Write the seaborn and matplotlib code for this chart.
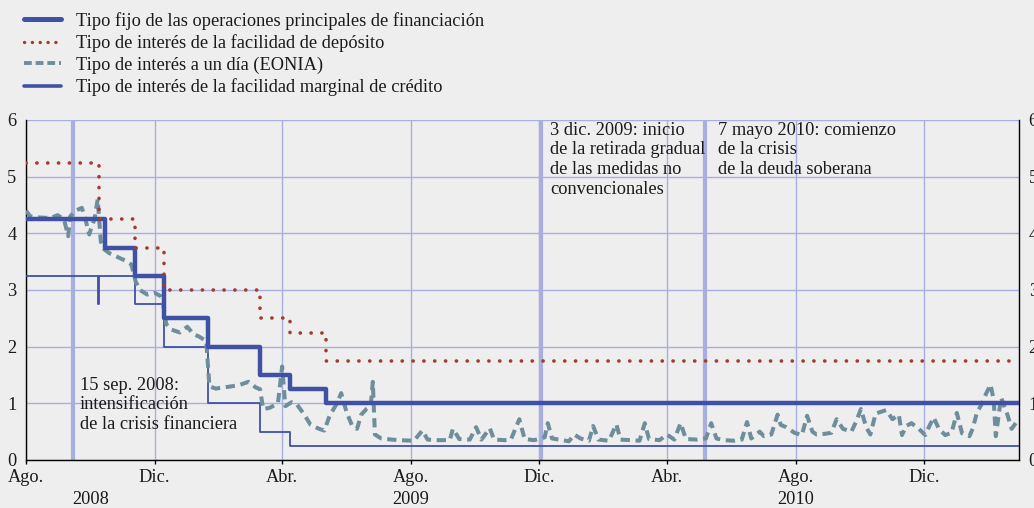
import matplotlib
matplotlib.use("Agg")
import matplotlib.pyplot as plt
import matplotlib.transforms as mtransforms
from matplotlib.lines import Line2D
import seaborn as sns
import pandas as pd

# ---------------- data ----------------
mro_dates = ["2008-08-01", "2008-10-15", "2008-11-12", "2008-12-10", "2009-01-21",
             "2009-03-11", "2009-04-08", "2009-05-13", "2011-03-01"]
mro_values = [4.25, 3.75, 3.25, 2.50, 2.00, 1.50, 1.25, 1.00, 1.00]

upper_dates = ["2008-08-01", "2008-10-09", "2008-11-12", "2008-12-10", "2009-03-11",
               "2009-04-08", "2009-05-13", "2011-03-01"]
upper_values = [5.25, 4.25, 3.75, 3.00, 2.50, 2.25, 1.75, 1.75]

lower_dates = ["2008-08-01", "2008-10-08", "2008-10-09", "2008-11-12", "2008-12-10",
               "2009-01-21", "2009-03-11", "2009-04-08", "2011-03-01"]
lower_values = [3.25, 2.75, 3.25, 2.75, 2.00, 1.00, 0.50, 0.25, 0.25]

eonia_dates = [
    "2008-08-01", "2008-08-05", "2008-08-14", "2008-08-24", "2008-08-31", "2008-09-06",
    "2008-09-10", "2008-09-12", "2008-09-17", "2008-09-23", "2008-09-27", "2008-09-30",
    "2008-10-02", "2008-10-05", "2008-10-08", "2008-10-11", "2008-10-14", "2008-10-19",
    "2008-10-27", "2008-11-03", "2008-11-09", "2008-11-13", "2008-11-17", "2008-11-24",
    "2008-12-01", "2008-12-08", "2008-12-12", "2008-12-17", "2008-12-25", "2009-01-01",
    "2009-01-07", "2009-01-12", "2009-01-19", "2009-01-22", "2009-01-28", "2009-02-04",
    "2009-02-12", "2009-02-19", "2009-02-28", "2009-03-07", "2009-03-11", "2009-03-14",
    "2009-03-20", "2009-03-28", "2009-04-01", "2009-04-04", "2009-04-10", "2009-04-15",
    "2009-04-22", "2009-04-28", "2009-05-06", "2009-05-11", "2009-05-16", "2009-05-23",
    "2009-05-27", "2009-06-01", "2009-06-06", "2009-06-11", "2009-06-15", "2009-06-20",
    "2009-06-24", "2009-06-26", "2009-06-28", "2009-07-04", "2009-07-14", "2009-07-21",
    "2009-08-04", "2009-08-12", "2009-08-17", "2009-08-28", "2009-09-07", "2009-09-10",
    "2009-09-16", "2009-09-26", "2009-10-02", "2009-10-07", "2009-10-15", "2009-10-19",
    "2009-10-29", "2009-11-04", "2009-11-12", "2009-11-17", "2009-11-26", "2009-12-06",
    "2009-12-09", "2009-12-13", "2009-12-23", "2009-12-29", "2010-01-03", "2010-01-09",
    "2010-01-17", "2010-01-21", "2010-01-26", "2010-02-05", "2010-02-12", "2010-02-16",
    "2010-02-26", "2010-03-06", "2010-03-11", "2010-03-15", "2010-03-25", "2010-04-01",
    "2010-04-08", "2010-04-14", "2010-04-19", "2010-04-30", "2010-05-08", "2010-05-13",
    "2010-05-18", "2010-05-25", "2010-06-04", "2010-06-11", "2010-06-16", "2010-06-20",
    "2010-06-28", "2010-07-02", "2010-07-09", "2010-07-15", "2010-07-18", "2010-07-23",
    "2010-07-31", "2010-08-07", "2010-08-12", "2010-08-17", "2010-08-21", "2010-08-28",
    "2010-09-04", "2010-09-09", "2010-09-15", "2010-09-23", "2010-09-28", "2010-10-02",
    "2010-10-07", "2010-10-11", "2010-10-16", "2010-10-21", "2010-10-26", "2010-11-01",
    "2010-11-07", "2010-11-10", "2010-11-14", "2010-11-19", "2010-11-26", "2010-12-02",
    "2010-12-06", "2010-12-10", "2010-12-15", "2010-12-21", "2010-12-27", "2011-01-01",
    "2011-01-06", "2011-01-13", "2011-01-16", "2011-01-20", "2011-01-25", "2011-01-29",
    "2011-02-02", "2011-02-05", "2011-02-07", "2011-02-12", "2011-02-18", "2011-02-22",
    "2011-02-27",
]
eonia_values = [
    4.40, 4.30, 4.28, 4.27, 4.32, 4.25,
    3.95, 4.30, 4.40, 4.45, 4.20, 3.98,
    4.10, 4.25, 4.60, 3.85, 3.72, 3.65,
    3.58, 3.52, 3.45, 3.15, 3.00, 2.92,
    2.95, 2.88, 2.40, 2.30, 2.25, 2.35,
    2.22, 2.18, 2.10, 1.30, 1.26, 1.28,
    1.30, 1.32, 1.38, 1.28, 1.25, 0.90,
    0.92, 1.00, 1.65, 0.95, 1.02, 0.98,
    0.80, 0.62, 0.55, 0.52, 0.78, 1.00,
    1.18, 0.85, 0.62, 0.55, 0.80, 0.90,
    0.95, 1.38, 0.45, 0.38, 0.36, 0.35,
    0.34, 0.52, 0.36, 0.35, 0.35, 0.55,
    0.37, 0.36, 0.58, 0.36, 0.56, 0.36,
    0.35, 0.36, 0.72, 0.37, 0.35, 0.40,
    0.65, 0.38, 0.35, 0.33, 0.45, 0.38,
    0.34, 0.60, 0.36, 0.34, 0.63, 0.36,
    0.35, 0.34, 0.65, 0.37, 0.35, 0.45,
    0.36, 0.65, 0.37, 0.36, 0.38, 0.65,
    0.38, 0.35, 0.34, 0.36, 0.67, 0.38,
    0.50, 0.42, 0.45, 0.80, 0.62, 0.58,
    0.48, 0.44, 0.78, 0.50, 0.45, 0.46,
    0.48, 0.72, 0.55, 0.50, 0.70, 0.90,
    0.58, 0.45, 0.82, 0.85, 0.88, 0.72,
    0.80, 0.44, 0.60, 0.65, 0.55, 0.44,
    0.60, 0.75, 0.55, 0.44, 0.48, 0.83,
    0.47, 0.42, 0.55, 0.83, 1.00, 1.18,
    1.33, 1.06, 0.42, 1.10, 0.80, 0.55,
    0.68,
]

legend_labels = [
    "Tipo fijo de las operaciones principales de financiación",
    "Tipo de interés de la facilidad de depósito",
    "Tipo de interés a un día (EONIA)",
    "Tipo de interés de la facilidad marginal de crédito",
]

tick_dates = ["2008-08-01", "2008-12-01", "2009-04-01", "2009-08-01", "2009-12-01",
              "2010-04-01", "2010-08-01", "2010-12-01"]
tick_labels = ["Ago.", "Dic.", "Abr.", "Ago.", "Dic.", "Abr.", "Ago.", "Dic."]
year_dates = ["2008-10-01", "2009-08-01", "2010-08-01"]
year_labels = ["2008", "2009", "2010"]

event_dates = ["2008-09-15", "2009-12-03", "2010-05-07"]
event_texts = ["15 sep. 2008:\nintensificación\nde la crisis financiera",
               "3 dic. 2009: inicio\nde la retirada gradual\nde las medidas no\nconvencionales",
               "7 mayo 2010: comienzo\nde la crisis\nde la deuda soberana"]
y_ticks = [0, 1, 2, 3, 4, 5, 6]

# ---------------- style ----------------
sns.set_theme(style="white")
plt.rcParams["font.family"] = ["Liberation Serif", "DejaVu Serif"]
BG = "#eeeeee"
GRID = "#a9aee0"
BLUE = "#3f51a5"
RED = "#a33b2e"
GREY = "#6f8e9c"
TXT = "#1a1a1a"
FS = 13.2

fig = plt.figure(figsize=(10.34, 5.08), dpi=100, facecolor=BG)
ax = fig.add_axes([26 / 1034, 1 - 460 / 508, (1019 - 26) / 1034, 340 / 508])
ax.set_facecolor(BG)

mro = pd.DataFrame({"d": pd.to_datetime(mro_dates), "v": mro_values})
upper = pd.DataFrame({"d": pd.to_datetime(upper_dates), "v": upper_values})
lower = pd.DataFrame({"d": pd.to_datetime(lower_dates), "v": lower_values})
eonia = pd.DataFrame({"d": pd.to_datetime(eonia_dates), "v": eonia_values})

# grid + event lines
ax.grid(True, color=GRID, lw=1.0, zorder=0)
ax.set_axisbelow(True)
for d in event_dates:
    ax.axvline(pd.Timestamp(d), color=GRID, lw=3, zorder=1)

sns.lineplot(data=lower, x="d", y="v", ax=ax, color=BLUE, lw=1.3,
             drawstyle="steps-post", zorder=3)
sns.lineplot(data=eonia, x="d", y="v", ax=ax, color=GREY, lw=2.9,
             linestyle=(0, (2.3, 1.4)), zorder=4)
sns.lineplot(data=mro, x="d", y="v", ax=ax, color=BLUE, lw=3.2,
             drawstyle="steps-post", zorder=5)
sns.lineplot(data=upper, x="d", y="v", ax=ax, color=RED, lw=2.6,
             linestyle=(0, (0.05, 2.95)), dash_capstyle="round",
             drawstyle="steps-post", zorder=5)

ax.set_xlim(pd.Timestamp("2008-08-01"), pd.Timestamp("2011-03-01"))
ax.set_ylim(0, 6)
ax.set_xlabel("")
ax.set_ylabel("")
ax.set_yticks(y_ticks)
ax.set_yticklabels([str(t) for t in y_ticks], fontsize=FS, color=TXT)
ax.set_xticks(pd.to_datetime(tick_dates))
ax.set_xticklabels(tick_labels, fontsize=FS, color=TXT)
ax.tick_params(axis="y", length=0, pad=7)
ax.tick_params(axis="x", direction="out", length=3, width=1, color="black", pad=3.5, bottom=True)

for s in ["left", "bottom", "right"]:
    ax.spines[s].set_color("black")
    ax.spines[s].set_linewidth(1.0)
ax.spines["top"].set_visible(False)

ax2 = ax.twinx()
ax2.set_ylim(0, 6)
ax2.set_yticks(y_ticks)
ax2.set_yticklabels([str(t) for t in y_ticks], fontsize=FS, color=TXT)
ax2.tick_params(axis="y", length=0, pad=7)
for s in ax2.spines.values():
    s.set_visible(False)

trans = mtransforms.blended_transform_factory(ax.transData, ax.transAxes)
for d, lab in zip(year_dates, year_labels):
    ax.text(pd.Timestamp(d), -0.116, lab, transform=trans, ha="center", va="center",
            fontsize=FS, color=TXT)

# annotations
ax.text(pd.Timestamp("2008-09-21"), 1.47, event_texts[0], fontsize=FS, va="top",
        ha="left", linespacing=1.2, zorder=6, color=TXT)
ax.text(pd.Timestamp("2009-12-11"), 5.97, event_texts[1], fontsize=FS, va="top",
        ha="left", linespacing=1.2, zorder=6, color=TXT)
ax.text(pd.Timestamp("2010-05-19"), 5.97, event_texts[2], fontsize=FS, va="top",
        ha="left", linespacing=1.2, zorder=6, color=TXT)

handles = [
    Line2D([], [], color=BLUE, lw=3.6),
    Line2D([], [], color=RED, lw=2.4, linestyle=(0, (0.05, 2.3)), dash_capstyle="round"),
    Line2D([], [], color=GREY, lw=2.8, linestyle=(0, (2.0, 1.0))),
    Line2D([], [], color=BLUE, lw=2.6),
]
fig.legend(handles, legend_labels, loc="upper left", bbox_to_anchor=(24 / 1034, 1 - 12 / 508),
           frameon=False, fontsize=FS, handlelength=2.0, handletextpad=0.85,
           labelspacing=0.24, borderaxespad=0, borderpad=0, labelcolor=TXT)

fig.savefig("out.png", dpi=100, facecolor=BG)
